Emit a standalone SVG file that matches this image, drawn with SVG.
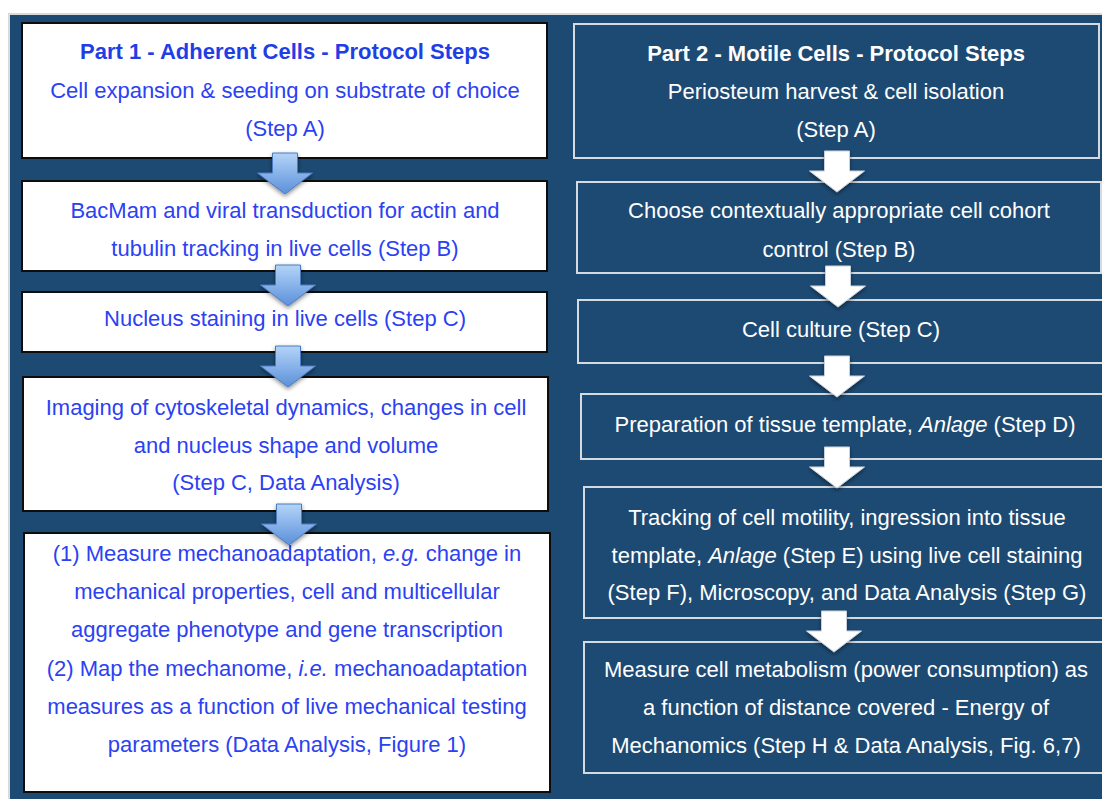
<svg xmlns="http://www.w3.org/2000/svg" width="1102" height="799" viewBox="0 0 1102 799">
<defs>
<style>
.bg{fill:#1d4a73}
.lbox{fill:#fff;stroke:#0d0d0d;stroke-width:2}
.rbox{fill:none;stroke:#d3dae2;stroke-width:2}
.lt{font-family:"Liberation Sans",Arial,sans-serif;font-size:22px;fill:#2b41f3;text-anchor:middle}
.lh{font-family:"Liberation Sans",Arial,sans-serif;font-size:22px;font-weight:bold;fill:#1f3ee6;text-anchor:middle}
.rt{font-family:"Liberation Sans",Arial,sans-serif;font-size:22px;fill:#ffffff;text-anchor:middle}
.rh{font-family:"Liberation Sans",Arial,sans-serif;font-size:22px;font-weight:bold;fill:#ffffff;text-anchor:middle}
.it{font-style:italic}
.la{fill:url(#blueGrad);stroke:#4a7cc2;stroke-width:1;filter:url(#shadow)}
.ra{fill:#ffffff;stroke:#c8d2de;stroke-width:1;filter:url(#shadow)}
</style>
<linearGradient id="blueGrad" x1="0" y1="0" x2="0" y2="1">
<stop offset="0" stop-color="#b4d4f8"/>
<stop offset="1" stop-color="#5b90da"/>
</linearGradient>
<filter id="shadow" x="-30%" y="-30%" width="160%" height="170%">
<feDropShadow dx="0" dy="2" stdDeviation="2" flood-color="#000" flood-opacity="0.45"/>
</filter>
<path id="arr" d="M -12.5 -41 H 12.5 V -21 H 27.5 L 0 0 L -27.5 -21 H -12.5 Z"/>
</defs>
<rect x="0" y="0" width="1102" height="799" fill="#ffffff"/>
<rect x="8" y="13" width="1094" height="786" fill="#d8dadc"/>
<rect class="bg" x="10" y="15" width="1092" height="784"/>

<g id="L1">
<rect class="lbox" x="22" y="23" width="525" height="135"/>
<text class="lh" x="285" y="59">Part 1 - Adherent Cells - Protocol Steps</text>
<text class="lt" x="285" y="98">Cell expansion &amp; seeding on substrate of choice</text>
<text class="lt" x="285" y="136">(Step A)</text>
</g>
<g id="L2">
<rect class="lbox" x="22" y="181" width="525" height="90"/>
<text class="lt" x="285" y="218">BacMam and viral transduction for actin and</text>
<text class="lt" x="285" y="256">tubulin tracking in live cells (Step B)</text>
</g>
<g id="L3">
<rect class="lbox" x="22" y="292" width="525" height="60"/>
<text class="lt" x="285" y="326">Nucleus staining in live cells (Step C)</text>
</g>
<g id="L4">
<rect class="lbox" x="23" y="377" width="525" height="134"/>
<text class="lt" x="286" y="415">Imaging of cytoskeletal dynamics, changes in cell</text>
<text class="lt" x="286" y="453">and nucleus shape and volume</text>
<text class="lt" x="286" y="490">(Step C, Data Analysis)</text>
</g>
<g id="L5">
<rect class="lbox" x="24" y="533" width="526" height="259"/>
<text class="lt" x="287" y="561">(1) Measure mechanoadaptation, <tspan class="it">e.g.</tspan> change in</text>
<text class="lt" x="287" y="599">mechanical properties, cell and multicellular</text>
<text class="lt" x="287" y="637">aggregate phenotype and gene transcription</text>
<text class="lt" x="287" y="676">(2) Map the mechanome, <tspan class="it">i.e.</tspan> mechanoadaptation</text>
<text class="lt" x="287" y="714">measures as a function of live mechanical testing</text>
<text class="lt" x="287" y="752">parameters (Data Analysis, Figure 1)</text>
</g>

<g id="R1">
<rect class="rbox" x="574" y="24" width="525" height="134"/>
<text class="rh" x="836" y="61">Part 2 - Motile Cells - Protocol Steps</text>
<text class="rt" x="836" y="99">Periosteum harvest &amp; cell isolation</text>
<text class="rt" x="836" y="137">(Step A)</text>
</g>
<g id="R2">
<rect class="rbox" x="577" y="182" width="524" height="91"/>
<text class="rt" x="839" y="218">Choose contextually appropriate cell cohort</text>
<text class="rt" x="839" y="257">control (Step B)</text>
</g>
<g id="R3">
<rect class="rbox" x="578" y="300" width="530" height="63"/>
<text class="rt" x="841" y="337">Cell culture (Step C)</text>
</g>
<g id="R4">
<rect class="rbox" x="581" y="394" width="530" height="65"/>
<text class="rt" x="845" y="432">Preparation of tissue template, <tspan class="it">Anlage</tspan> (Step D)</text>
</g>
<g id="R5">
<rect class="rbox" x="584" y="487" width="530" height="131"/>
<text class="rt" x="847" y="525">Tracking of cell motility, ingression into tissue</text>
<text class="rt" x="847" y="563">template, <tspan class="it">Anlage</tspan> (Step E) using live cell staining</text>
<text class="rt" x="847" y="600">(Step F), Microscopy, and Data Analysis (Step G)</text>
</g>
<g id="R6">
<rect class="rbox" x="584" y="642" width="530" height="131"/>
<text class="rt" x="846" y="677">Measure cell metabolism (power consumption) as</text>
<text class="rt" x="846" y="715">a function of distance covered - Energy of</text>
<text class="rt" x="846" y="753">Mechanomics (Step H &amp; Data Analysis, Fig. 6,7)</text>
</g>

<g id="connectors">
<use href="#arr" class="la" transform="translate(285,194)"/>
<use href="#arr" class="la" transform="translate(288,306)"/>
<use href="#arr" class="la" transform="translate(288,387)"/>
<use href="#arr" class="la" transform="translate(289,545)"/>
<use href="#arr" class="ra" transform="translate(837,192)"/>
<use href="#arr" class="ra" transform="translate(838,307)"/>
<use href="#arr" class="ra" transform="translate(837,397)"/>
<use href="#arr" class="ra" transform="translate(837,488)"/>
<use href="#arr" class="ra" transform="translate(834,652)"/>
</g>
</svg>
